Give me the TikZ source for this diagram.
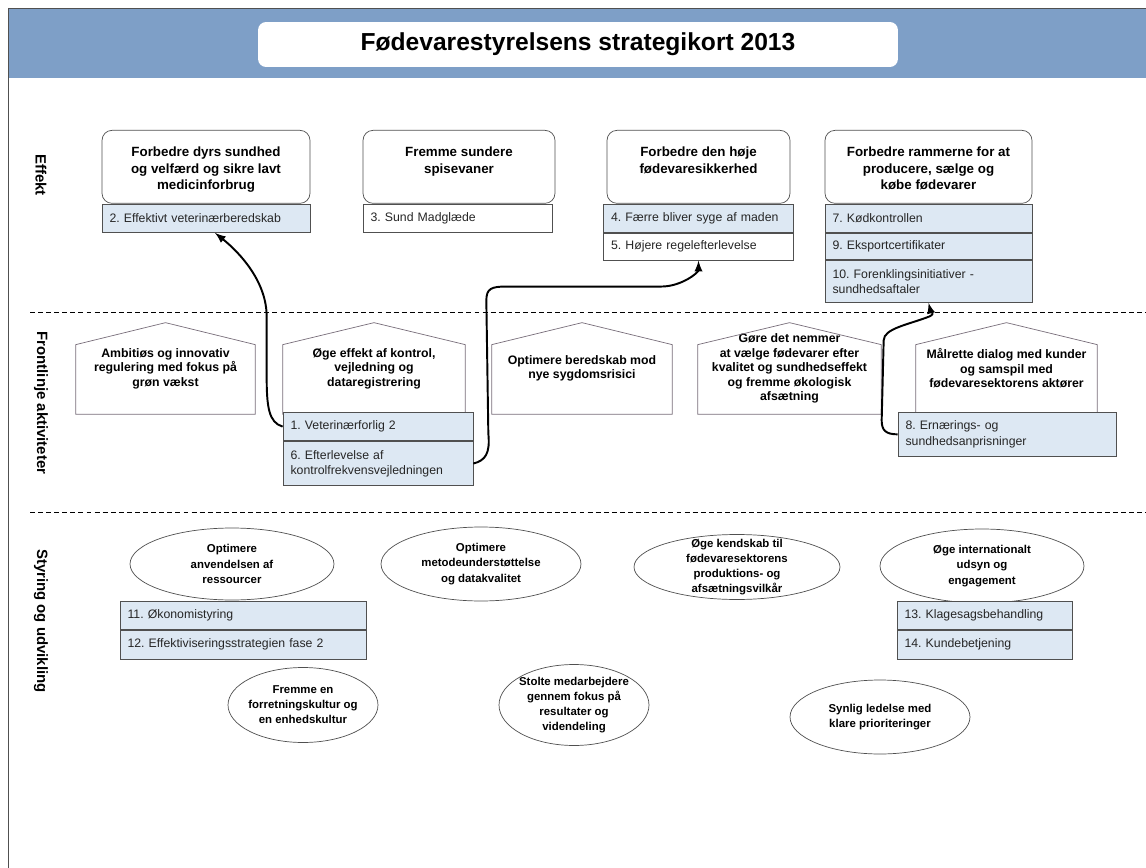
\documentclass[tikz,border=0pt]{standalone}
\usepackage{fontspec}
\setmainfont{Liberation Sans}
\usetikzlibrary{positioning,shapes.geometric,calc}
\definecolor{bandblue}{RGB}{126,159,199}
\definecolor{itemblue}{RGB}{221,232,243}
\definecolor{boxgray}{RGB}{80,80,80}
\definecolor{roofgray}{RGB}{120,110,122}
\frenchspacing
\begin{document}
\begin{tikzpicture}[x=0.02cm,y=-0.02cm]
\tikzstyle{every node}=[font=\fontsize{7}{8.2}\selectfont]
\tikzstyle{effbox}=[draw=boxgray, rounded corners=0.2cm, fill=white, minimum height=1.46cm, anchor=north]
\tikzstyle{effhead}=[align=center, anchor=north, font=\fontsize{7.6}{9.3}\selectfont\bfseries]
\tikzstyle{item}=[draw=boxgray, fill=itemblue, align=left, anchor=north, minimum height=0.57cm, inner xsep=0.15cm, text=black!85, font=\fontsize{7}{8.6}\selectfont]
\tikzstyle{house}=[minimum height=1.82cm, inner sep=1pt, align=center, font=\fontsize{7}{8.2}\selectfont\bfseries]
\tikzstyle{roof}=[draw=roofgray]
\tikzstyle{goal}=[ellipse, draw=boxgray, inner sep=0pt]
\tikzstyle{goaltxt}=[align=center, font=\fontsize{6.5}{8.6}\selectfont\bfseries]
\tikzstyle{rowlabel}=[rotate=-90, font=\fontsize{8.5}{10}\selectfont\bfseries]
\tikzstyle{sep}=[line width=0.45pt, dash pattern=on 2.8pt off 1.8pt]
\tikzstyle{conn}=[-latex, line width=1.1pt]
\useasboundingbox (0,0) rectangle (1146,868);
\fill[white] (0,0) rectangle (1146,868);
% header
\fill[bandblue] (8,8) rectangle (1146,78);
\draw[boxgray] (8,8) -- (1146,8);
\draw[boxgray] (8,8) -- (8,868);
\node[fill=white, rounded corners=0.16cm, minimum width=12.8cm, minimum height=0.9cm,
  font=\fontsize{14}{16}\selectfont\bfseries] (title) at (578,44.5) {Fødevarestyrelsens strategikort 2013};
% row labels
\node[rowlabel] (leffekt) at (41,175) {Effekt};
\node[rowlabel] (lfront) at (41,403) {Frontlinje aktiviteter};
\node[rowlabel] (lstyr) at (41,621) {Styring og udvikling};
\draw[sep] (30,312) -- (1146,312);
\draw[sep] (30,512) -- (1146,512);
% effekt
\node[effbox, minimum width=4.16cm] (eff1) at (206,130) {};
\node[effhead, below=0.22cm of eff1.north] (eff1txt) {Forbedre dyrs sundhed\\og velfærd og sikre  lavt\\medicinforbrug};
\node[item, text width=3.86cm, below=0pt of eff1] (i2) {2. Effektivt veterinærberedskab};
\node[effbox, minimum width=3.84cm] (eff2) at (459,130) {};
\node[effhead, below=0.22cm of eff2.north] (eff2txt) {Fremme sundere\\spisevaner};
\node[item, text width=3.48cm, anchor=north west, fill=white] (i3) at (eff2.south west) {3. Sund Madglæde};
\node[effbox, minimum width=3.66cm] (eff3) at (698.5,130) {};
\node[effhead, below=0.22cm of eff3.north] (eff3txt) {Forbedre den høje\\fødevaresikkerhed};
\node[item, text width=3.5cm, below=0pt of eff3] (i4) {4. Færre bliver syge af maden};
\node[item, text width=3.5cm, below=0pt of i4, fill=white, minimum height=0.54cm] (i5) {5. Højere regelefterlevelse};
\node[effbox, minimum width=4.14cm] (eff4) at (928.5,130) {};
\node[effhead, below=0.22cm of eff4.north] (eff4txt) {Forbedre rammerne for at\\producere, sælge og\\købe fødevarer};
\node[item, text width=3.84cm, below=0pt of eff4] (i7) {7. Kødkontrollen};
\node[item, text width=3.84cm, below=0pt of i7, minimum height=0.53cm] (i9) {9. Eksportcertifikater};
\node[item, text width=3.84cm, below=0pt of i9, minimum height=0.84cm] (i10) {10. Forenklingsinitiativer -\\sundhedsaftaler};
% frontlinje
\node[house, minimum width=3.58cm] (h1) at (165.5,368.5) {Ambitiøs og innovativ\\regulering med fokus på\\grøn vækst};
\node[house, minimum width=3.64cm] (h2) at (374,368.5) {Øge effekt af kontrol,\\vejledning og\\dataregistrering};
\node[house, minimum width=3.6cm] (h3) at (582,368.5) {Optimere  beredskab mod\\nye sygdomsrisici};
\node[house, minimum width=3.66cm] (h4) at (789.5,368.5) {Gøre  det nemmer\\at vælge  fødevarer efter\\kvalitet og sundhedseffekt\\og fremme økologisk\\afsætning};
\node[house, minimum width=3.62cm] (h5) at (1006.5,368.5) {Målrette dialog med kunder\\og samspil med\\fødevaresektorens aktører};
\draw[roof] (h1.south west) -- ($(h1.north west)+(0,22)$) -- (h1.north) -- ($(h1.north east)+(0,22)$) -- (h1.south east) -- cycle;
\draw[roof] (h2.south west) -- ($(h2.north west)+(0,22)$) -- (h2.north) -- ($(h2.north east)+(0,22)$) -- (h2.south east) -- cycle;
\draw[roof] (h3.south west) -- ($(h3.north west)+(0,22)$) -- (h3.north) -- ($(h3.north east)+(0,22)$) -- (h3.south east) -- cycle;
\draw[roof] (h4.south west) -- ($(h4.north west)+(0,22)$) -- (h4.north) -- ($(h4.north east)+(0,22)$) -- (h4.south east) -- cycle;
\draw[roof] (h5.south west) -- ($(h5.north west)+(0,22)$) -- (h5.north) -- ($(h5.north east)+(0,22)$) -- (h5.south east) -- cycle;
\node[item, text width=3.5cm] (i1) at (378,412) {1. Veterinærforlig 2};
\node[item, text width=3.5cm, below=0pt of i1, minimum height=0.88cm] (i6) {6. Efterlevelse af\\kontrolfrekvensvejledningen};
\node[item, text width=4.06cm, minimum height=0.88cm] (i8) at (1007,412) {8. Ernærings- og\\sundhedsanprisninger};
% styring
\node[goal, minimum width=4.08cm, minimum height=1.44cm] (g1) at (232,564) {};
\node[goaltxt] (g1txt) at (g1) {Optimere\\anvendelsen af\\ressourcer};
\node[goal, minimum width=4cm, minimum height=1.48cm] (g2) at (481,564) {};
\node[goaltxt] (g2txt) at (g2) {Optimere\\metodeunderstøttelse\\og datakvalitet};
\node[goal, minimum width=4.12cm, minimum height=1.3cm] (g3) at (737,567) {};
\node[goaltxt] (g3txt) at (g3) {Øge kendskab til\\fødevaresektorens\\produktions- og\\afsætningsvilkår};
\node[goal, minimum width=4.08cm, minimum height=1.48cm] (g4) at (982,566) {};
\node[goaltxt] (g4txt) at (g4) {Øge internationalt\\udsyn og\\engagement};
\node[item, text width=4.62cm] (i11) at (243,601) {11. Økonomistyring};
\node[item, text width=4.62cm, below=0pt of i11] (i12) {12. Effektiviseringsstrategien fase 2};
\node[item, text width=3.2cm] (i13) at (984.5,601) {13. Klagesagsbehandling};
\node[item, text width=3.2cm, below=0pt of i13] (i14) {14. Kundebetjening};
\node[goal, minimum width=3cm, minimum height=1.5cm] (g5) at (303,705) {};
\node[goaltxt] (g5txt) at (g5) {Fremme  en\\forretningskultur og\\en enhedskultur};
\node[goal, minimum width=3cm, minimum height=1.62cm] (g6) at (574,705) {};
\node[goaltxt] (g6txt) at (g6) {Stolte medarbejdere\\gennem fokus på\\resultater og\\videndeling};
\node[goal, minimum width=3.6cm, minimum height=1.48cm] (g7) at (880,717) {};
\node[goaltxt] (g7txt) at (g7) {Synlig ledelse med\\klare prioriteringer};
%%%%%%%%%%%%%%%%
\draw[conn] (i1.west) .. controls +(-14,-4) and +(0,30) .. ++(-16,-50) -- ++(0,-60)
  .. controls +(0,-35) and +(25,20) .. ([xshift=0.18cm]i2.south);
\draw[conn] (i6.east) .. controls +(12,-3) and +(2,20) .. ++(15,-30) -- ++(-2,-133)
  .. controls +(0,-12) and +(-15,0) .. ++(20,-14) -- ++(155,0)
  .. controls +(20,0) and +(0,12) .. (i5.south);
\draw[conn] (i8.west) .. controls +(-12,0) and +(0,10) .. ++(-16,-14) -- ++(2,-80)
  .. controls +(0,-12) and +(-20,8) .. ++(46,-24) .. controls +(6,-3) and +(2,8) .. (i10.south);
\end{tikzpicture}
\end{document}
